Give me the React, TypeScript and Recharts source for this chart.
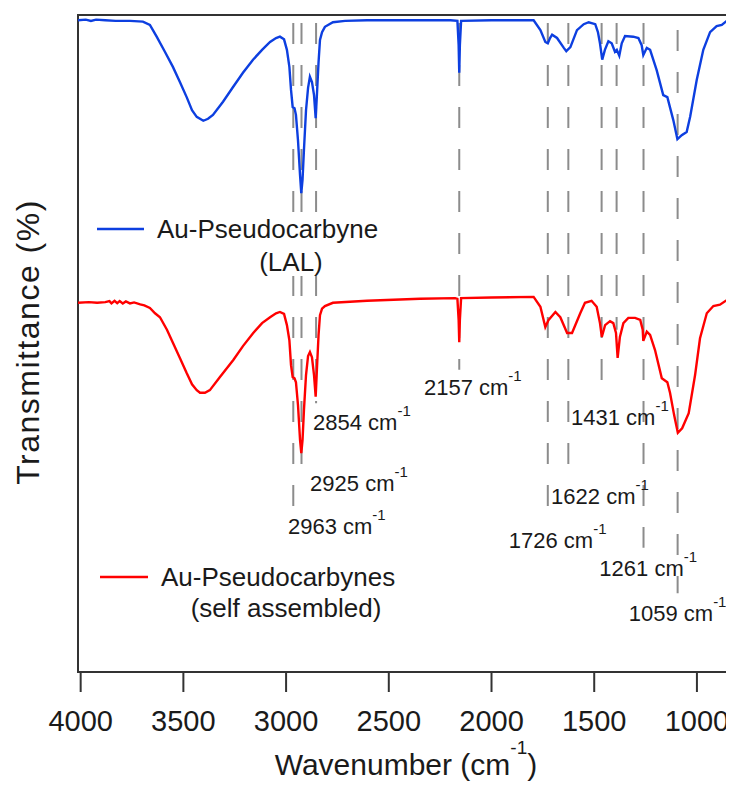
import React from "react";
import { LineChart, Line, XAxis, YAxis, ReferenceLine, ReferenceDot, ReferenceArea } from "recharts";

// [wavenumber cm-1, transmittance %] (offset stack)
const lalSpectrum: [number, number][] = [
  [4013, 99.2], [3975, 99.3], [3950, 99.1], [3925, 99.3], [3880, 99.2], [3830, 99.1], [3760, 99.1],
  [3697, 99.0], [3663, 98.5], [3630, 96.7], [3590, 94.4], [3551, 92.1], [3517, 89.8], [3484, 87.5],
  [3458, 85.5], [3435, 84.5], [3403, 83.9], [3380, 84.2], [3356, 84.8], [3307, 86.8], [3259, 89.0],
  [3210, 91.2], [3161, 93.2], [3117, 94.7], [3078, 95.9], [3049, 96.5], [3030, 96.7], [3010, 96.3],
  [2996, 94.7], [2984, 92.1], [2976, 88.6], [2968, 86.0], [2959, 85.8], [2952, 84.8], [2942, 80.9],
  [2932, 75.6], [2926, 72.9], [2920, 74.9], [2913, 79.5], [2903, 85.5], [2893, 88.9], [2884, 90.6],
  [2874, 89.8], [2864, 87.8], [2856, 84.3], [2850, 87.8], [2842, 92.8], [2835, 96.2], [2825, 97.4],
  [2811, 98.2], [2772, 98.9], [2713, 99.1], [2606, 99.2], [2400, 99.2], [2200, 99.2], [2166, 99.1],
  [2160, 95.4], [2157, 91.2], [2154, 95.4], [2148, 99.1], [2000, 99.2], [1850, 99.2], [1795, 99.2],
  [1762, 97.7], [1738, 95.9], [1726, 95.7], [1715, 96.5], [1705, 97.0], [1681, 96.5], [1648, 95.0],
  [1636, 94.5], [1616, 95.1], [1584, 97.7], [1551, 98.6], [1527, 98.9], [1495, 98.6], [1482, 97.4],
  [1472, 95.7], [1461, 93.2], [1448, 94.7], [1431, 96.0], [1415, 95.7], [1399, 94.4], [1390, 94.7],
  [1378, 93.8], [1366, 95.7], [1350, 96.8], [1310, 96.7], [1285, 96.5], [1269, 95.4], [1261, 93.9],
  [1244, 95.0], [1228, 94.7], [1196, 91.6], [1164, 87.8], [1144, 87.5], [1115, 84.0], [1095, 81.1],
  [1074, 81.7], [1050, 82.2], [1033, 84.5], [1001, 90.1], [969, 94.7], [936, 97.4], [904, 98.3],
  [879, 98.5], [850, 99.2], [839, 99.5],
];

const selfSpectrum: [number, number][] = [
  [4013, 56.2], [3960, 56.3], [3920, 56.2], [3880, 56.3], [3860, 56.45], [3850, 56.1], [3835, 56.5],
  [3822, 56.15], [3810, 56.45], [3795, 56.1], [3780, 56.4], [3760, 56.1], [3740, 56.25], [3710, 55.95],
  [3690, 55.8], [3663, 55.4], [3638, 54.6], [3614, 54.0], [3580, 52.1], [3551, 50.1], [3517, 47.8],
  [3484, 45.5], [3458, 43.8], [3435, 42.9], [3419, 42.5], [3395, 42.5], [3371, 42.9], [3322, 44.9],
  [3257, 47.5], [3210, 49.6], [3160, 51.6], [3117, 53.1], [3078, 54.0], [3049, 54.6], [3030, 54.8],
  [3010, 54.5], [2996, 52.8], [2984, 50.5], [2976, 46.7], [2968, 44.9], [2959, 44.7], [2952, 44.1],
  [2942, 40.6], [2932, 35.3], [2926, 33.3], [2920, 35.3], [2913, 39.9], [2903, 45.2], [2893, 48.1],
  [2884, 48.7], [2874, 47.9], [2864, 45.2], [2856, 41.9], [2850, 46.0], [2842, 51.3], [2835, 54.3],
  [2825, 55.3], [2811, 55.7], [2772, 56.2], [2606, 56.5], [2348, 56.8], [2177, 56.9], [2166, 56.8],
  [2160, 53.6], [2157, 50.2], [2154, 53.6], [2148, 56.9], [2000, 57.0], [1795, 57.1], [1762, 55.6],
  [1738, 52.5], [1722, 53.6], [1689, 54.8], [1665, 54.0], [1632, 51.6], [1608, 51.6], [1568, 54.6],
  [1545, 56.2], [1513, 56.5], [1488, 55.6], [1472, 53.1], [1463, 51.0], [1447, 52.8], [1423, 53.4],
  [1407, 53.1], [1394, 51.6], [1386, 47.8], [1375, 51.0], [1358, 53.1], [1334, 53.9], [1301, 53.9],
  [1276, 53.6], [1264, 52.1], [1261, 50.4], [1244, 51.8], [1228, 51.3], [1204, 49.0], [1171, 44.7],
  [1144, 44.1], [1131, 42.5], [1111, 39.1], [1093, 36.4], [1072, 37.1], [1040, 39.4], [1009, 45.2],
  [985, 50.8], [952, 54.6], [920, 55.7], [888, 55.9], [855, 56.6], [839, 57.1],
];

const xTicks = [4000, 3500, 3000, 2500, 2000, 1500, 1000];

// dashed guide lines: position, top and bottom (transmittance)
const guideWn = [2965, 2925, 2854, 2157, 1726, 1626, 1464, 1391, 1260, 1094];
const guideTop = [98.8, 98.8, 98.8, 98.8, 98.8, 98.8, 98.8, 98.8, 98.8, 97.7];
const guideBottom = [25.1, 31.5, 40.9, 46.0, 24.4, 30.4, 44.4, 52.1, 18.9, 12.0];

const peakLabels = ["2963", "2925", "2854", "2157", "1726", "1622", "1431", "1261", "1059"];
const peakLabelAt: [number, number][] = [
  [2991, 22.2], [2883, 28.8], [2869, 38.1], [2329, 43.4], [1916, 20.1],
  [1710, 26.8], [1613, 38.8], [1475, 15.8], [1332, 9.0],
];

const FONT = "'Liberation Sans', Arial, Helvetica, sans-serif";
const INK = "#1a1a1a";
const FRAME = "#333333";

const lalData = lalSpectrum.map(([wn, t]) => ({ wn, t }));
const selfData = selfSpectrum.map(([wn, t]) => ({ wn, t }));

const PeakLabel = ({ cx, cy, text }: { cx: number; cy: number; text: string }) => (
  <text x={cx} y={cy + 8} fontSize={22} fill={INK} fontFamily={FONT}>
    {text} cm
    <tspan fontSize={15} dy={-14}>-1</tspan>
  </text>
);

export default function App() {
  return (
    <div style={{ position: "relative", width: 734, height: 787, margin: "-8px 0 0 -8px", background: "#fff" }}>
      <LineChart width={734} height={787} margin={{ top: 15, right: 4, left: 78, bottom: 55 }}>
        <XAxis
          dataKey="wn"
          type="number"
          domain={[839, 4013]}
          reversed
          allowDataOverflow
          ticks={xTicks}
          height={60}
          tickSize={20}
          tickMargin={18}
          axisLine={{ stroke: FRAME, strokeWidth: 2 }}
          tickLine={{ stroke: FRAME, strokeWidth: 2 }}
          tick={{ fontSize: 29, fill: INK, fontFamily: FONT }}
        />
        <YAxis type="number" domain={[0, 100]} width={0} hide />
        <ReferenceArea x1={839} x2={4013} y1={0} y2={100} fill="none" stroke={FRAME} strokeWidth={2} ifOverflow="visible" />
        {guideWn.map((wn, i) => (
          <ReferenceLine
            key={"g" + wn}
            segment={[{ x: wn, y: guideTop[i] }, { x: wn, y: guideBottom[i] }]}
            stroke="#8c8c8c"
            strokeWidth={2}
            strokeDasharray="21 21"
          />
        ))}
        <Line data={lalData} dataKey="t" type="linear" stroke="#0d3fe0" strokeWidth={2.4} dot={false} isAnimationActive={false} />
        <Line data={selfData} dataKey="t" type="linear" stroke="#ff0000" strokeWidth={2.4} dot={false} isAnimationActive={false} />
        {peakLabels.map((label, i) => (
          <ReferenceDot
            key={"p" + label}
            x={peakLabelAt[i][0]}
            y={peakLabelAt[i][1]}
            r={0}
            ifOverflow="visible"
            shape={(p: any) => <PeakLabel cx={p.cx} cy={p.cy} text={label} />}
          />
        ))}
      </LineChart>
      <svg width={734} height={787} style={{ position: "absolute", left: 0, top: 0, pointerEvents: "none" }}>
        <rect x={90} y={212} width={300} height={64} fill="#fff" />
        <line x1={97} y1={229} x2={144} y2={229} stroke="#0d3fe0" strokeWidth={2.4} />
        <text x={157} y={238} fontSize={26} fill={INK} fontFamily={FONT}>Au-Pseudocarbyne</text>
        <text x={291} y={271} fontSize={26} fill={INK} fontFamily={FONT} textAnchor="middle">(LAL)</text>
        <line x1={100} y1={577} x2={148} y2={577} stroke="#ff0000" strokeWidth={2.4} />
        <text x={161} y={586} fontSize={26} fill={INK} fontFamily={FONT}>Au-Pseudocarbynes</text>
        <text x={286} y={617} fontSize={26} fill={INK} fontFamily={FONT} textAnchor="middle">(self assembled)</text>
        <text transform="translate(38.5, 342) rotate(-90)" textAnchor="middle" fontSize={32} letterSpacing={1.5} fill={INK} fontFamily={FONT}>
          Transmittance (%)
        </text>
        <text x={406} y={775} textAnchor="middle" fontSize={30} fill={INK} fontFamily={FONT}>
          Wavenumber (cm<tspan fontSize={19} dy={-21}>-1</tspan><tspan dy={21}>)</tspan>
        </text>
      </svg>
    </div>
  );
}
